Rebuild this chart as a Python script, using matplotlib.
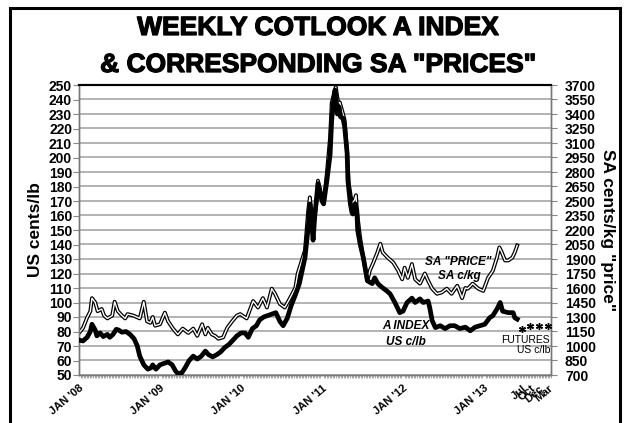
import numpy as np
import matplotlib

matplotlib.use("Agg")
import matplotlib.pyplot as plt
import matplotlib.patheffects as pe
from matplotlib.patches import Rectangle

plt.rcParams["font.family"] = ["Liberation Sans", "DejaVu Sans"]

# weekly Cotlook A index, US c/lb (time in decimal years)
A_YEAR = [2008.00, 2008.05, 2008.10, 2008.14, 2008.16, 2008.20, 2008.22, 2008.26, 2008.30, 2008.35,
          2008.38, 2008.42, 2008.46, 2008.49, 2008.53, 2008.58, 2008.63, 2008.68, 2008.72, 2008.75,
          2008.80, 2008.85, 2008.89, 2008.91, 2008.95, 2009.00, 2009.05, 2009.10, 2009.15, 2009.19,
          2009.22, 2009.27, 2009.31, 2009.36, 2009.41, 2009.46, 2009.51, 2009.56, 2009.60, 2009.65,
          2009.70, 2009.75, 2009.80, 2009.85, 2009.90, 2009.95, 2010.00, 2010.05, 2010.09, 2010.14,
          2010.19, 2010.23, 2010.28, 2010.33, 2010.38, 2010.43, 2010.48, 2010.52, 2010.57, 2010.62,
          2010.67, 2010.72, 2010.79, 2010.83, 2010.85, 2010.88, 2010.89, 2010.91, 2010.95, 2011.00,
          2011.02, 2011.06, 2011.10, 2011.12, 2011.14, 2011.16, 2011.17, 2011.19, 2011.21, 2011.23,
          2011.26, 2011.28, 2011.31, 2011.32, 2011.35, 2011.37, 2011.38, 2011.41, 2011.43, 2011.44,
          2011.47, 2011.51, 2011.56, 2011.62, 2011.65, 2011.69, 2011.74, 2011.80, 2011.84, 2011.90,
          2011.96, 2012.00, 2012.05, 2012.11, 2012.15, 2012.21, 2012.25, 2012.31, 2012.33, 2012.36,
          2012.40, 2012.46, 2012.52, 2012.58, 2012.64, 2012.70, 2012.77, 2012.83, 2012.89, 2012.95,
          2013.01, 2013.07, 2013.11, 2013.16, 2013.20, 2013.23, 2013.30, 2013.36, 2013.38, 2013.41]
A_INDEX = [74, 73.5, 76, 80, 85, 81, 77, 79, 76.5, 78,
           76, 78, 81.5, 81, 79.5, 80, 78, 75, 70, 63,
           57, 54, 55, 57, 54, 57, 58, 59, 57, 53,
           51, 51.5, 55, 60, 63, 61, 63, 66.5, 64, 62.5,
           64, 66, 69, 71, 74, 77, 79, 79, 76, 82,
           84, 88, 90, 91, 92, 93, 87, 84, 89, 98,
           105, 113, 131, 152, 168, 150, 143, 159, 182, 170,
           168, 184, 202, 226, 237.5, 246.5, 243, 230, 235, 228,
           227, 221, 203, 184, 168, 162, 161, 168, 163.5, 150,
           140.5, 131, 115, 113, 117, 113, 110.5, 108, 106, 100,
           93, 94, 100, 103, 100, 102.5, 100, 101, 96.5, 87.5,
           82.7, 84, 82, 84, 84, 82, 83, 80.5, 83, 84,
           85, 89.5, 91, 95.5, 100, 94, 93, 93, 89.5, 88.5]

# SA "price", SA c/kg
SA_YEAR = [2008.00, 2008.05, 2008.10, 2008.14, 2008.16, 2008.20, 2008.23, 2008.28, 2008.31, 2008.35,
           2008.41, 2008.44, 2008.48, 2008.53, 2008.57, 2008.60, 2008.67, 2008.75, 2008.80, 2008.84,
           2008.88, 2008.91, 2008.94, 2009.00, 2009.06, 2009.10, 2009.16, 2009.22, 2009.28, 2009.35,
           2009.41, 2009.46, 2009.52, 2009.56, 2009.59, 2009.64, 2009.68, 2009.72, 2009.78, 2009.83,
           2009.89, 2009.95, 2009.99, 2010.07, 2010.15, 2010.21, 2010.27, 2010.32, 2010.38, 2010.42,
           2010.48, 2010.54, 2010.60, 2010.67, 2010.70, 2010.79, 2010.83, 2010.85, 2010.89, 2010.94,
           2010.95, 2011.00, 2011.02, 2011.06, 2011.10, 2011.12, 2011.15, 2011.17, 2011.20, 2011.22,
           2011.26, 2011.28, 2011.31, 2011.33, 2011.37, 2011.40, 2011.42, 2011.43, 2011.47, 2011.51,
           2011.56, 2011.59, 2011.63, 2011.68, 2011.72, 2011.75, 2011.81, 2011.88, 2011.94, 2011.99,
           2012.02, 2012.06, 2012.11, 2012.15, 2012.21, 2012.27, 2012.31, 2012.36, 2012.42, 2012.48,
           2012.54, 2012.60, 2012.67, 2012.73, 2012.77, 2012.80, 2012.86, 2012.93, 2012.99, 2013.05,
           2013.11, 2013.16, 2013.19, 2013.22, 2013.26, 2013.30, 2013.35, 2013.38, 2013.41]
SA_PRICE = [1135, 1188, 1293, 1360, 1495, 1450, 1360, 1383, 1315, 1285,
            1315, 1458, 1360, 1315, 1285, 1330, 1315, 1285, 1458, 1255,
            1240, 1300, 1210, 1225, 1345, 1255, 1180, 1120, 1180, 1135,
            1180, 1105, 1225, 1120, 1188, 1120, 1105, 1075, 1090, 1188,
            1255, 1315, 1330, 1285, 1465, 1398, 1495, 1398, 1593, 1540,
            1435, 1398, 1488, 1600, 1750, 1990, 2403, 2538, 2230, 2538,
            2710, 2538, 2470, 2785, 3160, 3513, 3618, 3678, 3513, 3520,
            3400, 3333, 2995, 2680, 2470, 2508, 2560, 2403, 2125, 1915,
            1675, 1780, 1855, 1960, 2058, 1968, 1915, 1863, 1780, 1690,
            1810, 1705, 1848, 1690, 1645, 1750, 1675, 1593, 1540, 1555,
            1593, 1540, 1623, 1495, 1600, 1593, 1645, 1593, 1570, 1705,
            1780, 1915, 2020, 1968, 1885, 1885, 1915, 1968, 2040]

FUT_YEAR = [2013.47, 2013.57, 2013.68, 2013.79]
FUT_LABELS = ["Jul", "Oct", "Dec", "Mar"]
FUTURES = [82, 84, 84, 84]

YEAR_TICKS = [2008, 2009, 2010, 2011, 2012, 2013]
YEAR_LABELS = ["JAN '08", "JAN '09", "JAN '10", "JAN '11", "JAN '12", "JAN '13"]

W, H = 627, 423
fig = plt.figure(figsize=(W / 100, H / 100), dpi=100)
ax = fig.add_axes([79 / W, 1 - 375 / H, (551 - 79) / W, (375 - 85) / H])
ax2 = ax.twinx()

# SA on the lower layer, A index above it
ax.set_zorder(ax2.get_zorder() + 1)
ax.patch.set_visible(False)
ax2.patch.set_visible(True)
ax2.patch.set_facecolor("white")

ax2.plot(SA_YEAR, SA_PRICE, color="black", lw=2.8, solid_joinstyle="round", zorder=3)
ax2.plot(SA_YEAR, SA_PRICE, color="white", lw=1.0, solid_joinstyle="round", zorder=4)
ax.plot(A_YEAR, A_INDEX, color="black", lw=3.4, solid_joinstyle="round", zorder=5)
ax.plot(FUT_YEAR, FUTURES, ls="none", marker=(6, 2, 0), ms=5, mew=1.0, color="black", zorder=5)

x0, x1 = 2008.0, 2008.0 + (551 - 79) / 81
ax.set_xlim(x0, x1)
ax.set_ylim(50, 250)
ax2.set_ylim(700, 3700)
ax.set_yticks(np.arange(50, 251, 10))
ax2.set_yticks(np.arange(700, 3701, 150))
ax2.grid(axis="y", color="#a6a6a6", lw=1.2, zorder=0)
ax2.set_axisbelow(True)

ax.set_xticks(YEAR_TICKS + FUT_YEAR)
ax.set_xticklabels(YEAR_LABELS + FUT_LABELS, rotation=40, ha="right",
                   rotation_mode="anchor", fontsize=8, fontweight="bold")
ax.set_xticks(np.arange(x0, x1, 1 / 52), minor=True)
ax.tick_params(axis="x", which="major", length=0, pad=6)
ax.tick_params(axis="x", which="minor", length=2.5, width=0.5, color="#888888")
ax.tick_params(axis="y", length=4, color="#888888", labelsize=10, pad=1)
ax2.tick_params(axis="y", length=4, color="#888888", labelsize=10, pad=6)
for lab in ax.get_yticklabels() + ax2.get_yticklabels():
    lab.set_fontweight("bold")

for a in (ax, ax2):
    for side in ("left", "right", "bottom"):
        a.spines[side].set_color("#777777")
        a.spines[side].set_linewidth(1.0)
    a.spines["top"].set_color("black")
    a.spines["top"].set_linewidth(1.5)

ax.set_ylabel("US cents/lb", fontsize=12.5, fontweight="bold", labelpad=4)
ax2.set_ylabel('SA cents/kg "price"', fontsize=12.5, fontweight="bold",
               rotation=-90, labelpad=14)

ax.text(2012.04, 84, "A INDEX", fontsize=8.5, fontweight="bold", style="italic",
        ha="center", va="center")
ax.text(2012.04, 73, "US c/lb", fontsize=8.5, fontweight="bold", style="italic",
        ha="center", va="center")
ax.text(2012.68, 128, 'SA "PRICE"', fontsize=8.5, fontweight="bold", style="italic",
        ha="center", va="center")
ax.text(2012.69, 118, "SA c/kg", fontsize=8.5, fontweight="bold", style="italic",
        ha="center", va="center")
ax.text(x1 - 0.01, 74, "FUTURES", fontsize=7.5, ha="right", va="center")
ax.text(x1 - 0.01, 67, "US c/lb", fontsize=7.5, ha="right", va="center")

heavy = [pe.withStroke(linewidth=0.9, foreground="black")]
fig.text(0.507, 1 - 28 / H, "WEEKLY COTLOOK A INDEX", fontsize=19,
         fontweight="bold", ha="center", va="center", path_effects=heavy)
fig.text(0.507, 1 - 65 / H, '& CORRESPONDING SA "PRICES"', fontsize=19,
         fontweight="bold", ha="center", va="center", path_effects=heavy)

fig.add_artist(Rectangle((10 / W, -0.05), (620 - 10) / W, 1.05 - 8 / H,
                         transform=fig.transFigure, fill=False,
                         edgecolor="black", lw=2.2))

fig.savefig("out.png", dpi=100)
